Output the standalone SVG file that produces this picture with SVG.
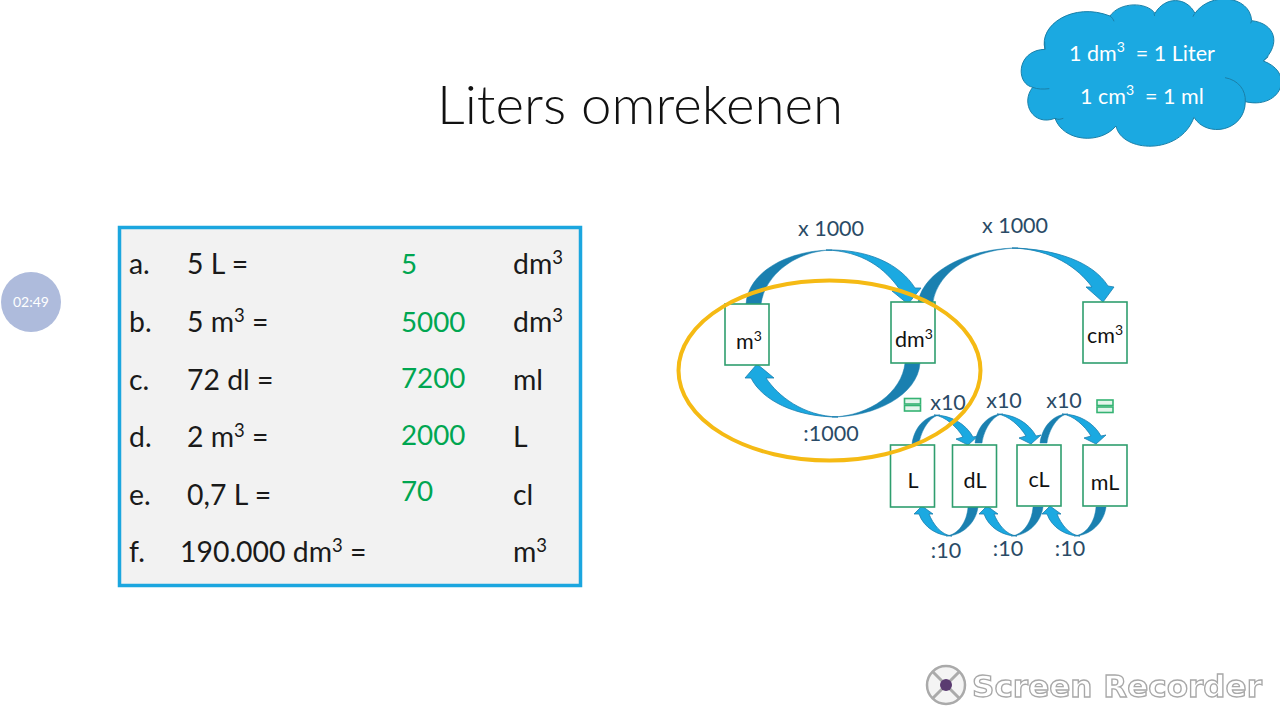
<svg xmlns="http://www.w3.org/2000/svg" xmlns:xlink="http://www.w3.org/1999/xlink" width="1280" height="720" viewBox="0 0 1280 720">
<style>
text{font-family:"Lato","Carlito","Liberation Sans",sans-serif}
.t{font-size:28.4px;fill:#1a1a1a}
.g{font-size:27.8px;fill:#00a651}
.l{font-size:21.5px;fill:#2a4b66;text-anchor:middle}
.n{font-size:21.5px;fill:#111;text-anchor:middle}
.c{font-size:21.5px;fill:#fff}
.box{fill:#fff;stroke:#2f9e6e;stroke-width:1.6}
.dk{fill:#1a80b0;stroke:#1a80b0;stroke-width:.5}
.lt{fill:#1ba9e1;stroke:#1a7fae;stroke-width:.8}
.eq{fill:#e4f5ec;stroke:#35b373;stroke-width:1.6}
</style>
<defs>
<g id="up"><path class="dk" d="M912,444C914,428 925,415 940,415C930,416 921,430 919,444Z"/><path class="lt" d="M934,415C951,415 966,424 973,437L978,436L968,445L956,439L963,437C957,427 945,416 934,415Z"/></g>
<g id="down"><path class="dk" d="M978,507C976,523 962,536 946,536C958,535 967,522 968,507Z"/><path class="lt" d="M952,536C938,536 924,528 919,514L914,514L922,506L933,514L929,514C933,524 941,535 952,536Z"/></g>
<filter id="soft"><feGaussianBlur stdDeviation="0.6"/></filter>
</defs>
<rect width="1280" height="720" fill="#fff"/>
<text x="437" y="124" font-size="53" fill="#111" style="font-weight:300" textLength="406" lengthAdjust="spacingAndGlyphs">Liters omrekenen</text>
<g id="timer"><circle cx="31" cy="302" r="30" fill="#aebbdc"/><text x="31" y="307" font-size="14" fill="#fff" text-anchor="middle">02:49</text></g>
<g id="cloud">
<path transform="translate(1010,0) scale(.3333)" fill="#1ba9e1" stroke="#1a7fa8" stroke-width="3" d="M105,148C85,75 190,5 300,48C330,5 410,5 435,40C465,-12 530,-10 555,40C600,-25 720,-15 725,62C795,70 815,130 760,183C860,220 810,330 706,305C705,395 590,415 552,352C510,468 335,458 318,378C270,435 160,425 135,355C70,380 30,310 68,262C15,250 20,150 105,148Z"/>
<path transform="translate(1010,0) scale(.3333)" fill="none" stroke="#1a7fa8" stroke-width="3" d="M645,233C685,240 708,270 706,305M68,262C82,268 100,268 118,266M135,355C145,360 150,358 160,355M300,48C306,52 310,58 312,64M432,40L434,48M553,42L549,50M725,62L722,70M760,183L775,170M105,148L104,125"/>
<text class="c" x="1069" y="61">1 dm<tspan font-size="14" dy="-9">3</tspan><tspan dy="9" xml:space="preserve">  = 1 Liter</tspan></text>
<text class="c" x="1080" y="104">1 cm<tspan font-size="14" dy="-9">3</tspan><tspan dy="9" xml:space="preserve">  = 1 ml</tspan></text>
</g>
<g id="table">
<rect x="119.500" y="227.500" width="461" height="358" fill="#f2f2f2" stroke="#1ba6df" stroke-width="3.500"/>
<text class="t" x="129" y="274">a.</text><text class="t" x="187" y="274">5 L =</text><text class="g" x="401" y="274">5</text><text class="t" x="513" y="274">dm<tspan font-size="18.500" dy="-10">3</tspan></text>
<text class="t" x="129" y="332">b.</text><text class="t" x="187" y="332">5 m<tspan font-size="18.500" dy="-10">3</tspan><tspan dy="10"> =</tspan></text><text class="g" x="401" y="332">5000</text><text class="t" x="513" y="332">dm<tspan font-size="18.500" dy="-10">3</tspan></text>
<text class="t" x="129" y="390">c.</text><text class="t" x="187" y="390">72 dl =</text><text class="g" x="401" y="388">7200</text><text class="t" x="513" y="390">ml</text>
<text class="t" x="129" y="447">d.</text><text class="t" x="187" y="447">2 m<tspan font-size="18.500" dy="-10">3</tspan><tspan dy="10"> =</tspan></text><text class="g" x="401" y="445">2000</text><text class="t" x="513" y="447">L</text>
<text class="t" x="129" y="505">e.</text><text class="t" x="187" y="505">0,7 L =</text><text class="g" x="401" y="501">70</text><text class="t" x="513" y="505">cl</text>
<text class="t" x="129" y="562">f.</text><text class="t" x="180" y="562">190.000 dm<tspan font-size="18.500" dy="-10">3</tspan><tspan dy="10"> =</tspan></text><text class="t" x="513" y="562">m<tspan font-size="18.500" dy="-10">3</tspan></text>
</g>
<g id="connectors">
<path class="dk" d="M746,304C748,272 788,250 832,250C795,251 765,275 761,304Z"/>
<path class="lt" d="M826,250C868,249 900,264 915,288L921,288L908,304L892,291L900,290C885,268 862,251 826,250Z"/>
<path class="dk" d="M918,302C924,270 970,248 1018,248C975,249 938,270 933,302Z"/>
<path class="lt" d="M1012,248C1056,249 1093,262 1108,286L1114,287L1103,302L1086,287L1092,287C1078,268 1052,249 1012,248Z"/>
<path class="dk" d="M920,363C918,395 875,417 832,417C870,416 902,392 905,363Z"/>
<path class="lt" d="M838,417C795,417 762,400 751,378L745,378L757,364L774,378L766,378C778,396 803,416 838,417Z"/>
<use xlink:href="#up" href="#up"/>
<use xlink:href="#up" href="#up" transform="translate(63,-1)"/>
<use xlink:href="#up" href="#up" transform="translate(128,-1)"/>
<use xlink:href="#down" href="#down"/>
<use xlink:href="#down" href="#down" transform="translate(65,0)"/>
<use xlink:href="#down" href="#down" transform="translate(128,0)"/>
</g>
<g id="node-m3"><rect class="box" x="725" y="304" width="44" height="61"/><text class="n" x="749" y="349">m<tspan font-size="14" dy="-8">3</tspan></text></g>
<g id="node-dm3"><rect class="box" x="891" y="302" width="44" height="61"/><text class="n" x="914" y="347">dm<tspan font-size="14" dy="-8">3</tspan></text></g>
<g id="node-cm3"><rect class="box" x="1083" y="302" width="44" height="61"/><text class="n" x="1105" y="343">cm<tspan font-size="14" dy="-8">3</tspan></text></g>
<g id="node-L"><rect class="box" x="890.500" y="445" width="44" height="62"/><text class="n" x="913" y="488">L</text></g>
<g id="node-dL"><rect class="box" x="952.500" y="445" width="44" height="62"/><text class="n" x="975" y="488">dL</text></g>
<g id="node-cL"><rect class="box" x="1017" y="445" width="44" height="61"/><text class="n" x="1039" y="487">cL</text></g>
<g id="node-mL"><rect class="box" x="1083" y="445" width="44" height="61"/><text class="n" x="1105" y="490">mL</text></g>
<ellipse id="highlight" cx="829.500" cy="370.500" rx="151" ry="90" fill="none" stroke="#f5ba14" stroke-width="4"/>
<g id="labels">
<text class="l" x="831" y="236">x 1000</text>
<text class="l" x="1015" y="233">x 1000</text>
<text class="l" x="831" y="441">:1000</text>
<text class="l" x="948" y="410">x10</text>
<text class="l" x="1004" y="408">x10</text>
<text class="l" x="1064" y="408">x10</text>
<text class="l" x="946" y="558">:10</text>
<text class="l" x="1008" y="556">:10</text>
<text class="l" x="1070" y="556">:10</text>
<rect class="eq" x="904.500" y="398.500" width="16" height="5.500"/><rect class="eq" x="904.500" y="405.500" width="16" height="5.500"/>
<rect class="eq" x="1097" y="400" width="16" height="5.500"/><rect class="eq" x="1097" y="407" width="16" height="5.500"/>
</g>
<g id="watermark" filter="url(#soft)">
<circle cx="946" cy="685" r="19" fill="#f4f4f4" stroke="#aaa" stroke-width="2.500"/>
<path d="M933,672L959,698M959,672L933,698" stroke="#aaa" stroke-width="3" fill="none"/>
<circle cx="946" cy="685" r="6" fill="#5a3a70"/>
<text x="972" y="697" font-size="30" style="font-family:'DejaVu Sans',sans-serif" font-weight="700" fill="#fff" stroke="#a8a8a8" stroke-width="1.300" textLength="290" lengthAdjust="spacingAndGlyphs">Screen Recorder</text>
</g>
</svg>
